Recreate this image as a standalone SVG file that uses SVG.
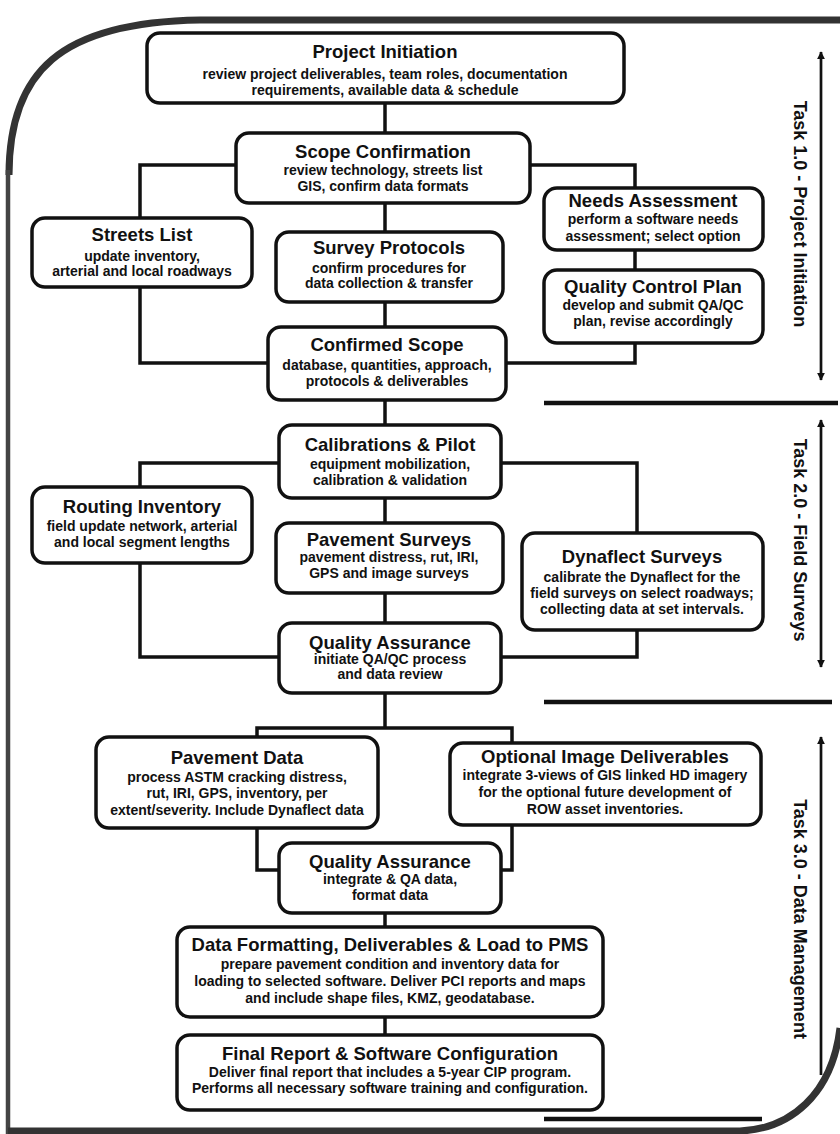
<svg xmlns="http://www.w3.org/2000/svg" width="840" height="1134" viewBox="0 0 840 1134">
<defs>
<marker id="ah" viewBox="0 0 10 10" refX="9" refY="5" markerWidth="3" markerHeight="4" orient="auto-start-reverse" markerUnits="strokeWidth">
<path d="M0,0 L10,5 L0,10 z" fill="#111"/>
</marker>
<style>
.box{fill:#fff;stroke:#111;stroke-width:3.5}
.t{font-family:"Liberation Sans",Arial,sans-serif;font-weight:bold;font-size:18.5px;text-anchor:middle;fill:#111}
.b{font-family:"Liberation Sans",Arial,sans-serif;font-weight:bold;font-size:14px;text-anchor:middle;fill:#111}
.c{fill:none;stroke:#111;stroke-width:3.5}
.frame{fill:none;stroke:#333;stroke-width:7}
.frameL{fill:none;stroke:#444;stroke-width:4.5}
.sep{fill:none;stroke:#111;stroke-width:4.5}
.arr{fill:none;stroke:#111;stroke-width:2.7}
.task{font-family:"Liberation Sans",Arial,sans-serif;font-weight:bold;font-size:18px;text-anchor:middle;fill:#111}
</style>
</defs>
<rect width="840" height="1134" fill="#fff"/>
<g id="frame">
<path class="frame" d="M 840 20 L 200 20 C 60 22, 9 72, 9 175"/>
<path class="frameL" d="M 8 170 L 8 1134"/>
<path class="frame" d="M 8 1131 L 740 1131 C 790 1129, 832 1095, 840 1028"/>
<path class="sep" d="M 544 403 L 838 403"/>
<path class="sep" d="M 544 702 L 832 702"/>
<path class="sep" d="M 544 1119 L 762 1119"/>
</g>
<g id="tasks">
<line class="arr" x1="821" y1="52" x2="821" y2="380" marker-start="url(#ah)" marker-end="url(#ah)"/>
<line class="arr" x1="821" y1="420" x2="821" y2="667" marker-start="url(#ah)" marker-end="url(#ah)"/>
<line class="arr" x1="821" y1="737" x2="821" y2="1075" marker-start="url(#ah)"/>
<text class="task" transform="translate(800,214) rotate(90)" dy="6.5">Task 1.0 - Project Initiation</text>
<text class="task" transform="translate(800,540) rotate(90)" dy="6.5">Task 2.0 - Field Surveys</text>
<text class="task" transform="translate(800,919) rotate(90)" dy="6.5">Task 3.0 - Data Management</text>
</g>
<g id="connectors">
<path class="c" d="M385 103 V133"/>
<path class="c" d="M236 165 H140 V218"/>
<path class="c" d="M530 165 H635 V188"/>
<path class="c" d="M385 203 V232"/>
<path class="c" d="M635 250 V270"/>
<path class="c" d="M385 302 V327"/>
<path class="c" d="M140 287 V363 H268"/>
<path class="c" d="M635 343 V363 H506"/>
<path class="c" d="M385 400 V425"/>
<path class="c" d="M279 463 H140 V487"/>
<path class="c" d="M501 463 H637 V533"/>
<path class="c" d="M385 498 V523"/>
<path class="c" d="M385 593 V623"/>
<path class="c" d="M140 563 V657 H279"/>
<path class="c" d="M637 630 V657 H501"/>
<path class="c" d="M385 693 V728"/>
<path class="c" d="M257 737 V728 H512 V743"/>
<path class="c" d="M257 828 V870 H279"/>
<path class="c" d="M512 825 V870 H501"/>
<path class="c" d="M385 913 V927"/>
<path class="c" d="M385 1017 V1035"/>
</g>
<g id="project-initiation">
<rect class="box" x="147" y="33" width="477" height="70" rx="13"/>
<text class="t" x="385" y="58">Project Initiation</text>
<text class="b" x="385" y="79">review project deliverables, team roles, documentation</text>
<text class="b" x="385" y="95">requirements, available data &amp; schedule</text>
</g>
<g id="scope-confirmation">
<rect class="box" x="236" y="133" width="294" height="70" rx="13"/>
<text class="t" x="383" y="158">Scope Confirmation</text>
<text class="b" x="383" y="175">review technology, streets list</text>
<text class="b" x="383" y="191">GIS, confirm data formats</text>
</g>
<g id="needs-assessment">
<rect class="box" x="544" y="188" width="219" height="62" rx="13"/>
<text class="t" x="653" y="207">Needs Assessment</text>
<text class="b" x="653" y="224">perform a software needs</text>
<text class="b" x="653" y="241">assessment; select option</text>
</g>
<g id="streets-list">
<rect class="box" x="32" y="218" width="220" height="69" rx="13"/>
<text class="t" x="142" y="241">Streets List</text>
<text class="b" x="142" y="261">update inventory,</text>
<text class="b" x="142" y="276">arterial and local roadways</text>
</g>
<g id="survey-protocols">
<rect class="box" x="276" y="232" width="227" height="70" rx="13"/>
<text class="t" x="389" y="254">Survey Protocols</text>
<text class="b" x="389" y="273">confirm procedures for</text>
<text class="b" x="389" y="288">data collection &amp; transfer</text>
</g>
<g id="quality-control-plan">
<rect class="box" x="544" y="270" width="219" height="73" rx="13"/>
<text class="t" x="653" y="293">Quality Control Plan</text>
<text class="b" x="653" y="310">develop and submit QA/QC</text>
<text class="b" x="653" y="326">plan, revise accordingly</text>
</g>
<g id="confirmed-scope">
<rect class="box" x="268" y="327" width="238" height="73" rx="13"/>
<text class="t" x="387" y="351">Confirmed Scope</text>
<text class="b" x="387" y="370">database, quantities, approach,</text>
<text class="b" x="387" y="386">protocols &amp; deliverables</text>
</g>
<g id="calibrations-pilot">
<rect class="box" x="279" y="425" width="222" height="73" rx="13"/>
<text class="t" x="390" y="451">Calibrations &amp; Pilot</text>
<text class="b" x="390" y="469">equipment mobilization,</text>
<text class="b" x="390" y="485">calibration &amp; validation</text>
</g>
<g id="routing-inventory">
<rect class="box" x="32" y="487" width="220" height="76" rx="13"/>
<text class="t" x="142" y="513">Routing Inventory</text>
<text class="b" x="142" y="531">field update network, arterial</text>
<text class="b" x="142" y="547">and local segment lengths</text>
</g>
<g id="pavement-surveys">
<rect class="box" x="276" y="523" width="227" height="70" rx="13"/>
<text class="t" x="389" y="546">Pavement Surveys</text>
<text class="b" x="389" y="562">pavement distress, rut, IRI,</text>
<text class="b" x="389" y="578">GPS and image surveys</text>
</g>
<g id="dynaflect-surveys">
<rect class="box" x="522" y="533" width="241" height="97" rx="13"/>
<text class="t" x="642" y="563">Dynaflect Surveys</text>
<text class="b" x="642" y="582">calibrate the Dynaflect for the</text>
<text class="b" x="642" y="598">field surveys on select roadways;</text>
<text class="b" x="642" y="614">collecting data at set intervals.</text>
</g>
<g id="quality-assurance-1">
<rect class="box" x="279" y="623" width="222" height="70" rx="13"/>
<text class="t" x="390" y="649">Quality Assurance</text>
<text class="b" x="390" y="664">initiate QA/QC process</text>
<text class="b" x="390" y="679">and data review</text>
</g>
<g id="pavement-data">
<rect class="box" x="96" y="737" width="282" height="91" rx="13"/>
<text class="t" x="237" y="764">Pavement Data</text>
<text class="b" x="237" y="782">process ASTM cracking distress,</text>
<text class="b" x="237" y="798">rut, IRI, GPS, inventory, per</text>
<text class="b" x="237" y="815">extent/severity. Include Dynaflect data</text>
</g>
<g id="optional-image-deliverables">
<rect class="box" x="450" y="743" width="311" height="82" rx="13"/>
<text class="t" x="605" y="763">Optional Image Deliverables</text>
<text class="b" x="605" y="780">integrate 3-views of GIS linked HD imagery</text>
<text class="b" x="605" y="797">for the optional future development of</text>
<text class="b" x="605" y="814">ROW asset inventories.</text>
</g>
<g id="quality-assurance-2">
<rect class="box" x="279" y="843" width="222" height="70" rx="13"/>
<text class="t" x="390" y="868">Quality Assurance</text>
<text class="b" x="390" y="884">integrate &amp; QA data,</text>
<text class="b" x="390" y="900">format data</text>
</g>
<g id="data-formatting">
<rect class="box" x="177" y="927" width="426" height="90" rx="13"/>
<text class="t" x="390" y="951">Data Formatting, Deliverables &amp; Load to PMS</text>
<text class="b" x="390" y="969">prepare pavement condition and inventory data for</text>
<text class="b" x="390" y="986">loading to selected software. Deliver PCI reports and maps</text>
<text class="b" x="390" y="1003">and include shape files, KMZ, geodatabase.</text>
</g>
<g id="final-report">
<rect class="box" x="177" y="1035" width="426" height="75" rx="13"/>
<text class="t" x="390" y="1060">Final Report &amp; Software Configuration</text>
<text class="b" x="390" y="1077">Deliver final report that includes a 5-year CIP program.</text>
<text class="b" x="390" y="1093">Performs all necessary software training and configuration.</text>
</g>
</svg>
